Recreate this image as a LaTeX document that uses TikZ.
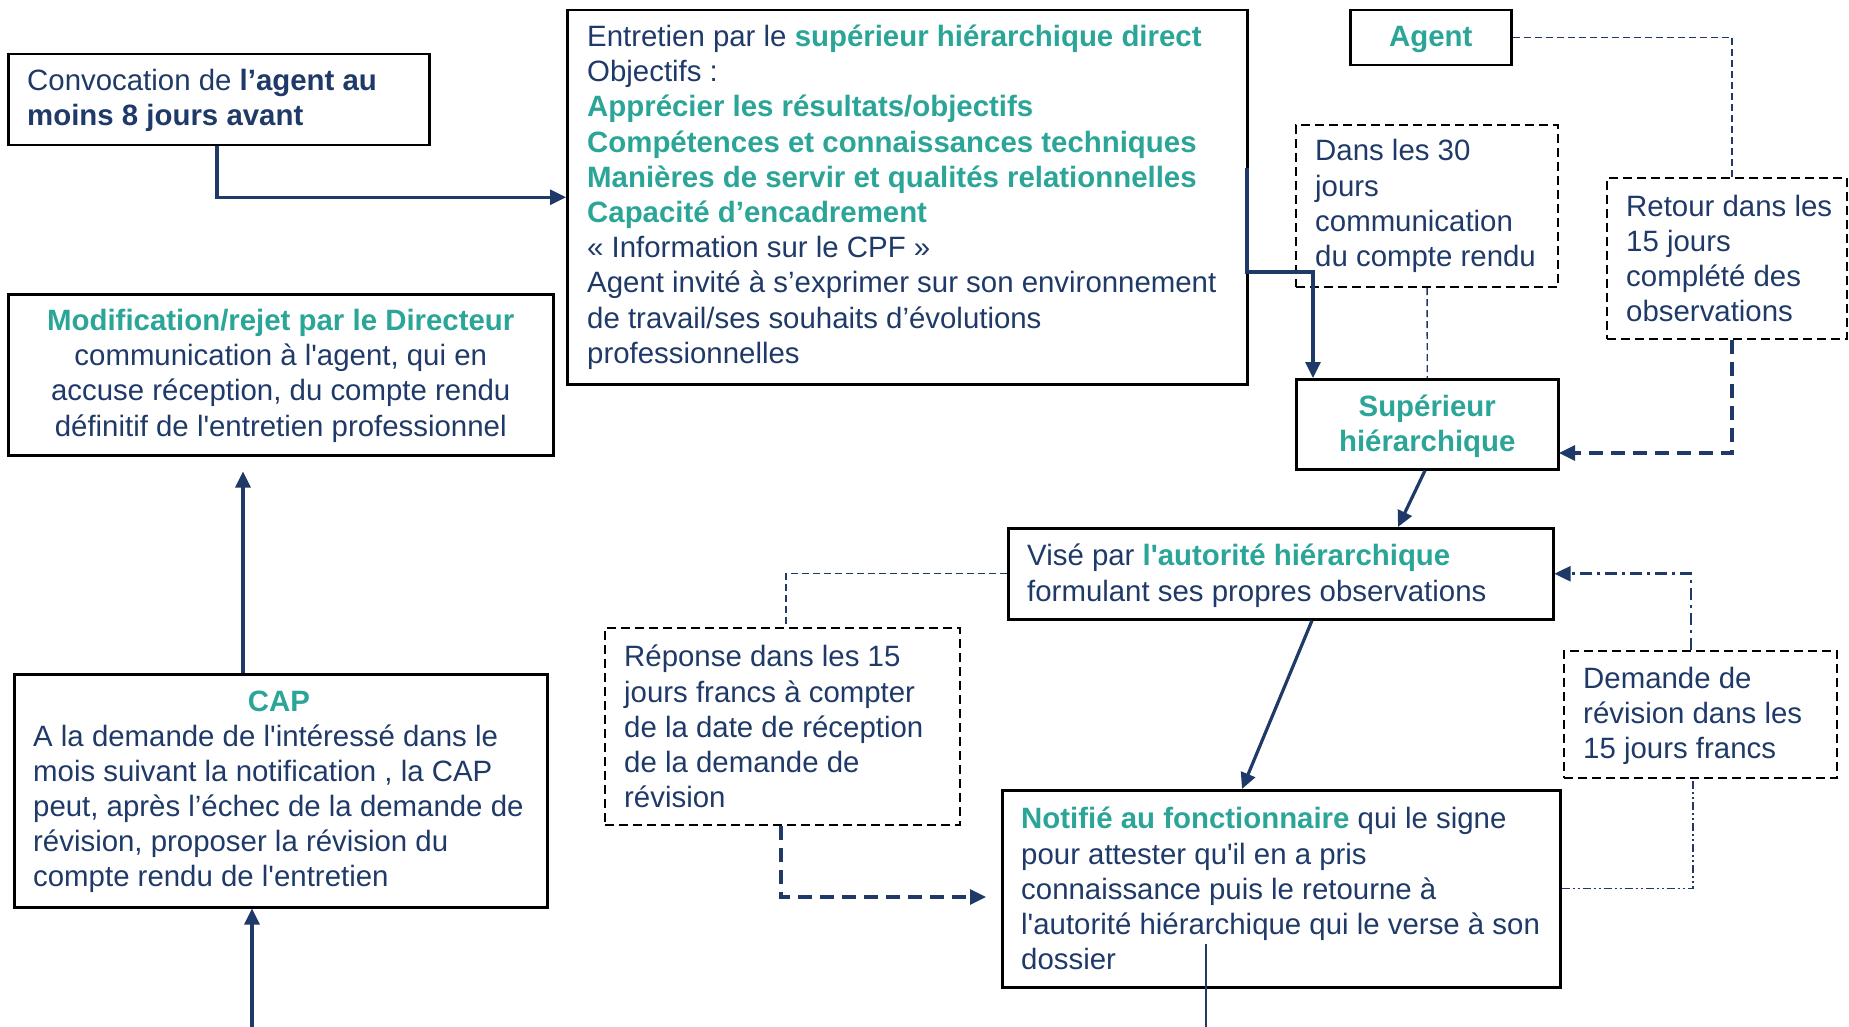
\documentclass[tikz,border=0pt]{standalone}
\usepackage{fontspec}
\setmainfont{Liberation Sans}[Ligatures=TeXOff]
\usetikzlibrary{arrows.meta,calc}
\definecolor{navy}{HTML}{1F3A68}
\definecolor{tealc}{HTML}{2AA597}
\newcommand\tealb[1]{\textcolor{tealc}{\textbf{#1}}}
\begin{document}
\begin{tikzpicture}[x=1pt,y=-1pt,
  box/.style={draw=black,line width=2.5pt,anchor=north west,inner sep=0pt},
  dbox/.style={draw=black,line width=2.2pt,dash pattern=on 9pt off 5pt,anchor=north west,inner sep=0pt},
  txt/.style={inner sep=0pt,text=navy,font=\fontsize{29.4}{35.2}\selectfont,align=left,anchor=west},
  ctxt/.style={inner sep=0pt,text=navy,font=\fontsize{29.4}{35.2}\selectfont,align=center},
  tip/.style={-{Triangle[length=16pt,width=15pt]}},
  conn/.style={draw=navy,line width=3.2pt},
  thindash/.style={draw=navy,line width=1.4pt,dash pattern=on 7pt off 4pt},
  thickdash/.style={draw=navy,line width=3.1pt,dash pattern=on 14pt off 8pt},
  dashdot/.style={draw=navy,line width=2.6pt,dash pattern=on 12pt off 5pt on 3pt off 5pt},
  thindashdot/.style={draw=navy,line width=1.3pt,dash pattern=on 8pt off 3pt on 2pt off 3pt on 2pt off 3pt}]
\useasboundingbox (0,0) rectangle (1849,1027);

% boxes
\node[box,minimum width=421pt,minimum height=91pt] (conv) at (7,53) {};
\node[txt] (conv-t) at ([xshift=20pt,yshift=-1pt]conv.west) {Convocation de \textbf{l’agent au}\\\textbf{moins 8 jours avant}};

\node[box,minimum width=680pt,minimum height=374pt] (entr) at (566,9) {};
\node[txt] (entr-t) at ([xshift=21pt]entr.west) {Entretien par le \tealb{supérieur hiérarchique direct}\\
Objectifs :\\
\tealb{Apprécier les résultats/objectifs}\\
\tealb{Compétences et connaissances techniques}\\
\tealb{Manières de servir et qualités relationnelles}\\
\tealb{Capacité d’encadrement}\\
« Information sur le CPF »\\
Agent invité à s’exprimer sur son environnement\\
de travail/ses souhaits d’évolutions\\
professionnelles};

\node[box,minimum width=161pt,minimum height=55pt] (agent) at (1349,9) {};
\node[ctxt] (agent-t) at ([yshift=-2pt]agent.center) {\tealb{Agent}};

\node[dbox,minimum width=262pt,minimum height=162pt] (dans) at (1295,124) {};
\node[txt] (dans-t) at ([xshift=20pt]dans.west) {Dans les 30\\jours\\communication\\du compte rendu};

\node[dbox,minimum width=240pt,minimum height=161pt] (retour) at (1606,177) {};
\node[txt] (retour-t) at ([xshift=20pt]retour.west) {Retour dans les\\15 jours\\complété des\\observations};

\node[box,minimum width=262pt,minimum height=90pt] (sup) at (1295,378) {};
\node[ctxt] (sup-t) at ([yshift=-2pt]sup.center) {\tealb{Supérieur}\\\tealb{hiérarchique}};

\node[box,minimum width=545pt,minimum height=91pt] (vise) at (1007,527) {};
\node[txt] (vise-t) at ([xshift=20pt,yshift=-2pt]vise.west) {Visé par \tealb{l'autorité hiérarchique}\\formulant ses propres observations};

\node[dbox,minimum width=355pt,minimum height=197pt] (rep) at (604,627) {};
\node[txt] (rep-t) at ([xshift=20pt]rep.west) {Réponse dans les 15\\jours francs à compter\\de la date de réception\\de la demande de\\révision};

\node[box,minimum width=558pt,minimum height=197pt] (notif) at (1001,789) {};
\node[txt] (notif-t) at ([xshift=20pt]notif.west) {\tealb{Notifié au fonctionnaire} qui le signe\\pour attester qu'il en a pris\\connaissance puis le retourne à\\l'autorité hiérarchique qui le verse à son\\dossier};

\node[dbox,minimum width=273pt,minimum height=127pt] (dem) at (1563,650) {};
\node[txt] (dem-t) at ([xshift=20pt,yshift=-1pt]dem.west) {Demande de\\révision dans les\\15 jours francs};

\node[box,minimum width=545pt,minimum height=161pt] (modif) at (7,293) {};
\node[ctxt] (modif-t) at ([yshift=-1pt]modif.center) {\tealb{Modification/rejet par le Directeur}\\communication à l'agent, qui en\\accuse réception, du compte rendu\\définitif de l'entretien professionnel};

\node[box,minimum width=533pt,minimum height=233pt] (cap) at (13,673) {};
\node[ctxt] (cap-h) at (279,701) {\tealb{CAP}};
\node[txt] (cap-t) at ([xshift=20pt,yshift=-18pt]cap.west) {A la demande de l'intéressé dans le\\mois suivant la notification , la CAP\\peut, après l’échec de la demande de\\révision, proposer la révision du\\compte rendu de l'entretien};

% connectors
\draw[conn,tip] (217,0 |- conv.south) |- (entr.west);
\draw[conn,tip] (1247,168) |- (1313,272) -- (1313,0 |- sup.north);
\draw[thindash] (dans.south) -- (sup.north);
\draw[thindash] (agent.east) -| (1732,0 |- retour.north);
\draw[thickdash,tip] (1732,0 |- retour.south) |- (1559,453);
\draw[conn,tip] (1425,0 |- sup.south) -- (1398,0 |- vise.north);
\draw[thindash] (vise.west) -| (786,0 |- rep.north);
\draw[thickdash,tip] (781,0 |- rep.south) |- ($(notif.west |- 0,897)+(-15,0)$);
\draw[conn,tip] (1312,0 |- vise.south) -- (1242,0 |- notif.north);
\draw[thindashdot] (notif.east) -| (1693,0 |- dem.south);
\draw[dashdot,tip] (1691,0 |- dem.north) |- (vise.east);
\draw[draw=navy,line width=1.4pt] (1206,944) -- (1206,1027);
\draw[conn,tip] (243,0 |- cap.north) -- ($(243,0 |- modif.south)+(0,15)$);
\draw[conn,tip] (252,1027) -- (252,0 |- cap.south);
\end{tikzpicture}
\end{document}
